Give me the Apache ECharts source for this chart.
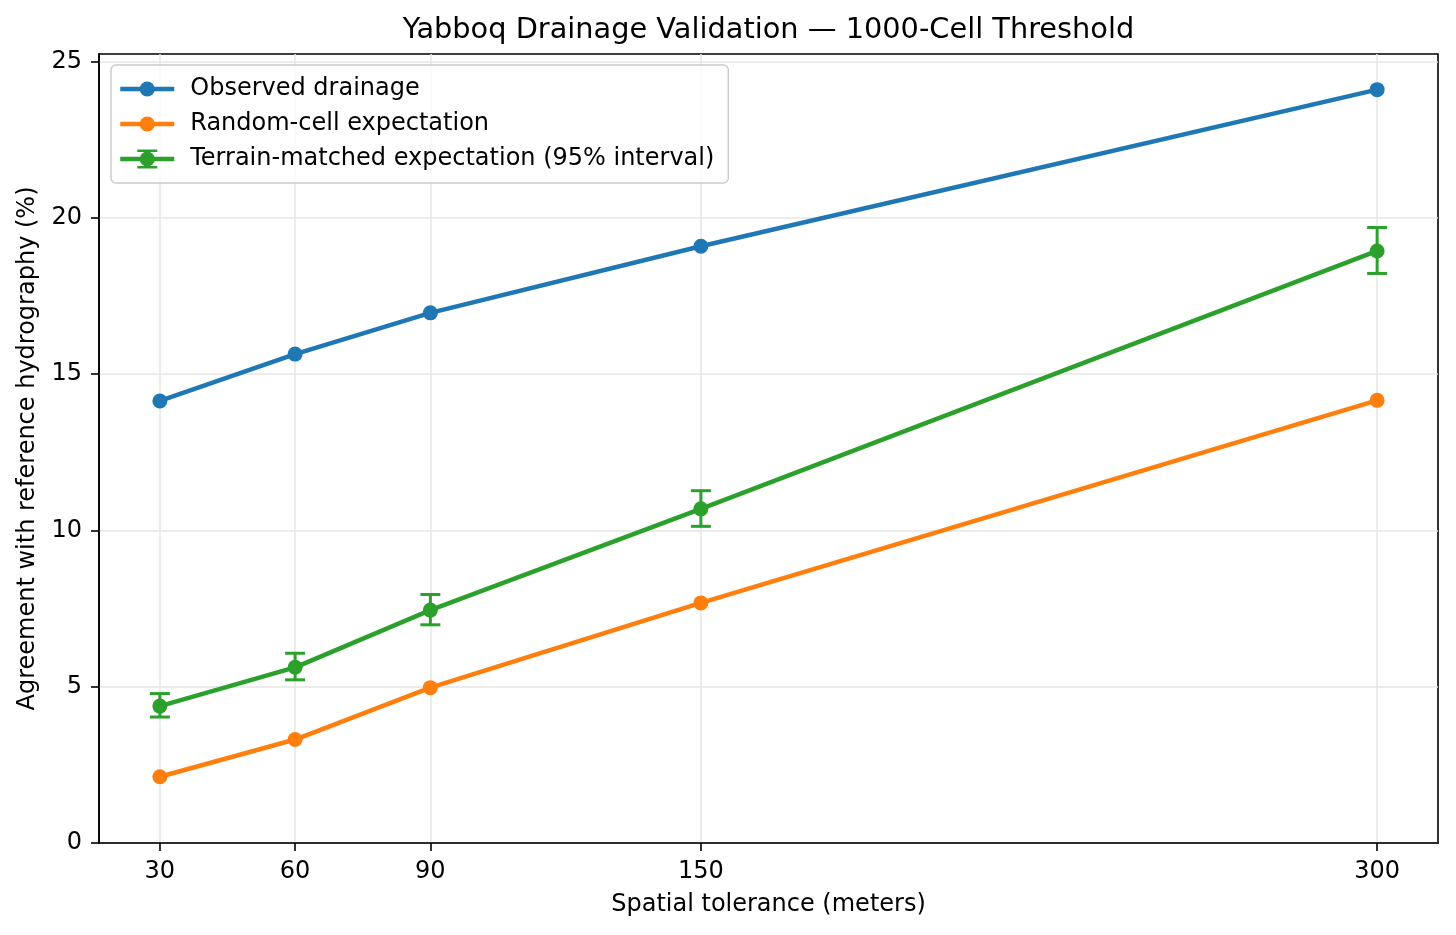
<!DOCTYPE html>
<html>
<head>
<meta charset="utf-8">
<script src="https://cdn.jsdelivr.net/npm/echarts@6/dist/echarts.min.js"></script>
<style>
  html, body { margin: 0; padding: 0; background: #fff; }
  #chart { width: 1456px; height: 935px; }
</style>
</head>
<body>
<div id="chart"></div>
<script>
const tolerance = [30, 60, 90, 150, 300]
const observed = [14.14, 15.64, 16.96, 19.09, 24.10]
const randomCell = [2.12, 3.31, 4.97, 7.68, 14.16]
const terrain = [4.38, 5.62, 7.45, 10.69, 18.94]
const terrainLow = [4.03, 5.22, 6.98, 10.13, 18.22]
const terrainHigh = [4.78, 6.07, 7.95, 11.27, 19.69]
const yTicks = [0, 5, 10, 15, 20, 25]

const BLUE = '#1f77b4'
const ORANGE = '#ff7f0e'
const GREEN = '#2ca02c'
const FONT = 'DejaVu Sans'

// legend handle for the error-bar series: line + marker + bar with caps
const errIcon = 'path://M0 7.25L54 7.25L54 11.75L0 11.75Z' +
  'M25.5 1L28.5 1L28.5 18L25.5 18Z' +
  'M17 0L37 0L37 2.5L17 2.5Z' +
  'M17 16.5L37 16.5L37 19L17 19Z' +
  'M34.6 9.5A7.6 7.6 0 1 1 19.4 9.5A7.6 7.6 0 1 1 34.6 9.5Z'

const pairs = arr => tolerance.map((x, i) => [x, arr[i]])

const chart = echarts.init(document.getElementById('chart'))

const option = {
  animation: false,
  backgroundColor: '#fff',
  title: {
    text: 'Yabboq Drainage Validation — 1000-Cell Threshold',
    left: 768.5,
    top: 16,
    padding: 0,
    textAlign: 'center',
    textStyle: { fontFamily: FONT, fontSize: 28.8, fontWeight: 'normal', color: '#000' }
  },
  legend: {
    orient: 'vertical',
    left: 111,
    top: 65,
    padding: [12, 14, 12, 7],
    itemWidth: 54,
    itemHeight: 19,
    itemGap: 11,
    borderColor: '#cccccc',
    borderWidth: 1.5,
    borderRadius: 5,
    backgroundColor: 'rgba(255,255,255,0.8)',
    textStyle: { fontFamily: FONT, fontSize: 24, color: '#000', padding: [0, 0, 0, 11] },
    data: [
      { name: 'Observed drainage', lineStyle: { width: 4.5 } },
      { name: 'Random-cell expectation', lineStyle: { width: 4.5 } },
      { name: 'Terrain-matched expectation (95% interval)', icon: errIcon, itemStyle: { color: GREEN, borderWidth: 0 } }
    ]
  },
  grid: {
    left: 99,
    right: 18,
    top: 54,
    bottom: 92,
    show: true,
    borderColor: '#000',
    borderWidth: 1.6,
    backgroundColor: 'transparent'
  },
  xAxis: {
    type: 'value',
    min: 16.5,
    max: 313.5,
    name: 'Spatial tolerance (meters)',
    nameLocation: 'middle',
    nameGap: 50,
    nameTextStyle: { fontFamily: FONT, fontSize: 24, color: '#000', verticalAlign: 'top' },
    axisLine: { show: true, lineStyle: { color: '#000', width: 1.6 } },
    axisTick: { show: true, customValues: tolerance, length: 8, lineStyle: { color: '#000', width: 1.6 } },
    axisLabel: { customValues: tolerance, margin: 17, fontFamily: FONT, fontSize: 24, color: '#000' },
    splitLine: { show: true, lineStyle: { color: '#e6e6e6', width: 1.5 } }
  },
  yAxis: {
    type: 'value',
    min: 0,
    max: 25.24,
    name: 'Agreement with reference hydrography (%)',
    nameLocation: 'middle',
    nameGap: 59,
    nameTextStyle: { fontFamily: FONT, fontSize: 24, color: '#000' },
    axisLine: { show: true, lineStyle: { color: '#000', width: 1.6 } },
    axisTick: { show: true, customValues: yTicks, length: 8, lineStyle: { color: '#000', width: 1.6 } },
    axisLabel: { customValues: yTicks, margin: 17, fontFamily: FONT, fontSize: 24, color: '#000' },
    splitLine: { show: true, lineStyle: { color: '#e6e6e6', width: 1.5 } }
  },
  series: [
    {
      name: 'Observed drainage',
      type: 'line',
      data: pairs(observed),
      symbol: 'circle',
      symbolSize: 15,
      z: 3,
      lineStyle: { color: BLUE, width: 4.5 },
      itemStyle: { color: BLUE }
    },
    {
      name: 'Random-cell expectation',
      type: 'line',
      data: pairs(randomCell),
      symbol: 'circle',
      symbolSize: 15,
      z: 3,
      lineStyle: { color: ORANGE, width: 4.5 },
      itemStyle: { color: ORANGE }
    },
    {
      name: 'Terrain-matched expectation (95% interval)',
      type: 'line',
      data: pairs(terrain),
      symbol: 'circle',
      symbolSize: 15,
      z: 3,
      lineStyle: { color: GREEN, width: 4.5 },
      itemStyle: { color: GREEN }
    },
    {
      name: 'terrain-interval',
      type: 'custom',
      z: 2,
      data: tolerance.map((x, i) => [x, terrainLow[i], terrainHigh[i]]),
      renderItem: function (params, api) {
        const lo = api.coord([api.value(0), api.value(1)])
        const hi = api.coord([api.value(0), api.value(2)])
        const cap = 10
        const st = { stroke: GREEN, lineWidth: 3 }
        return {
          type: 'group',
          children: [
            { type: 'line', shape: { x1: lo[0], y1: lo[1], x2: hi[0], y2: hi[1] }, style: st },
            { type: 'line', shape: { x1: lo[0] - cap, y1: lo[1], x2: lo[0] + cap, y2: lo[1] }, style: st },
            { type: 'line', shape: { x1: hi[0] - cap, y1: hi[1], x2: hi[0] + cap, y2: hi[1] }, style: st }
          ]
        }
      }
    }
  ]
}

chart.setOption(option)
</script>
</body>
</html>
